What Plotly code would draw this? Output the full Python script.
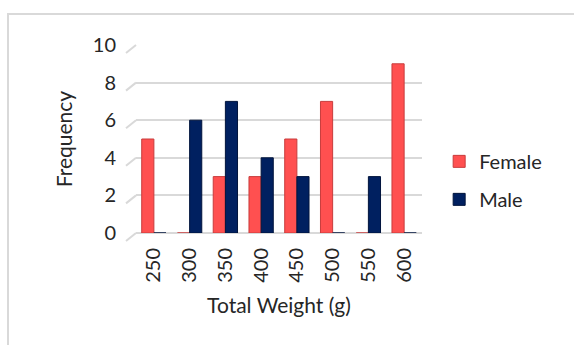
import plotly.graph_objects as go

categories = ["250", "300", "350", "400", "450", "500", "550", "600"]
female = [5, 0, 3, 3, 5, 7, 0, 9]
male = [0, 6, 7, 4, 3, 0, 3, 0]
y_ticks = [0, 2, 4, 6, 8, 10]

FONT = "Lato, Carlito, Calibri, sans-serif"

L, R, T, B = 136, 152, 45, 112
W, H = 574, 345
pw = W - L - R
ph = H - T - B
dx = -10 / pw   # 3D depth offset of grid lines (paper units)
dy = -8 / ph

shapes = [dict(type="rect", xref="paper", yref="paper",
               x0=(8 - L) / pw, x1=1.6, y0=-0.8, y1=(H - B - 14) / ph,
               line=dict(color="#D9D9D9", width=2), fillcolor="rgba(0,0,0,0)",
               layer="below")]
for v in y_ticks:
    shapes.append(dict(type="line", xref="paper", yref="paper",
                       x0=0, y0=v / 10, x1=dx, y1=v / 10 + dy,
                       line=dict(color="#D9D9D9", width=2), layer="below"))

fig = go.Figure()
fig.add_trace(go.Bar(x=categories, y=female, name="Female", legendgroup="f",
                     marker=dict(color="#FF5050", line=dict(color="#C83c3c", width=1))))
fig.add_trace(go.Bar(x=categories, y=male, name="Male", legendgroup="m",
                     marker=dict(color="#002060", line=dict(color="#00143c", width=1))))

fig.update_layout(
    width=W, height=H,
    margin=dict(l=L, r=R, t=T, b=B),
    paper_bgcolor="white", plot_bgcolor="white",
    barmode="group", bargap=0.32, bargroupgap=0.0,
    font=dict(family=FONT, size=20, color="#262626"),
    showlegend=True,
    legend=dict(x=1.06, y=0.28, xanchor="left", yanchor="middle",
                font=dict(size=20), itemwidth=30, tracegroupgap=9),
    xaxis=dict(title=dict(text="Total Weight (g)", font=dict(size=21), standoff=16),
               tickangle=-90, showgrid=False, showline=False, ticks="",
               tickfont=dict(size=20), ticklabelstandoff=10),
    yaxis=dict(title=dict(text="Frequency", font=dict(size=21), standoff=14),
               range=[0, 10], tickvals=y_ticks, showgrid=True,
               gridcolor="#D9D9D9", gridwidth=2, zeroline=True,
               zerolinecolor="#D9D9D9", zerolinewidth=2,
               showline=False, ticks="", tickfont=dict(size=20),
               ticklabelstandoff=19),
    shapes=shapes,
)

fig.write_html("out.html")
